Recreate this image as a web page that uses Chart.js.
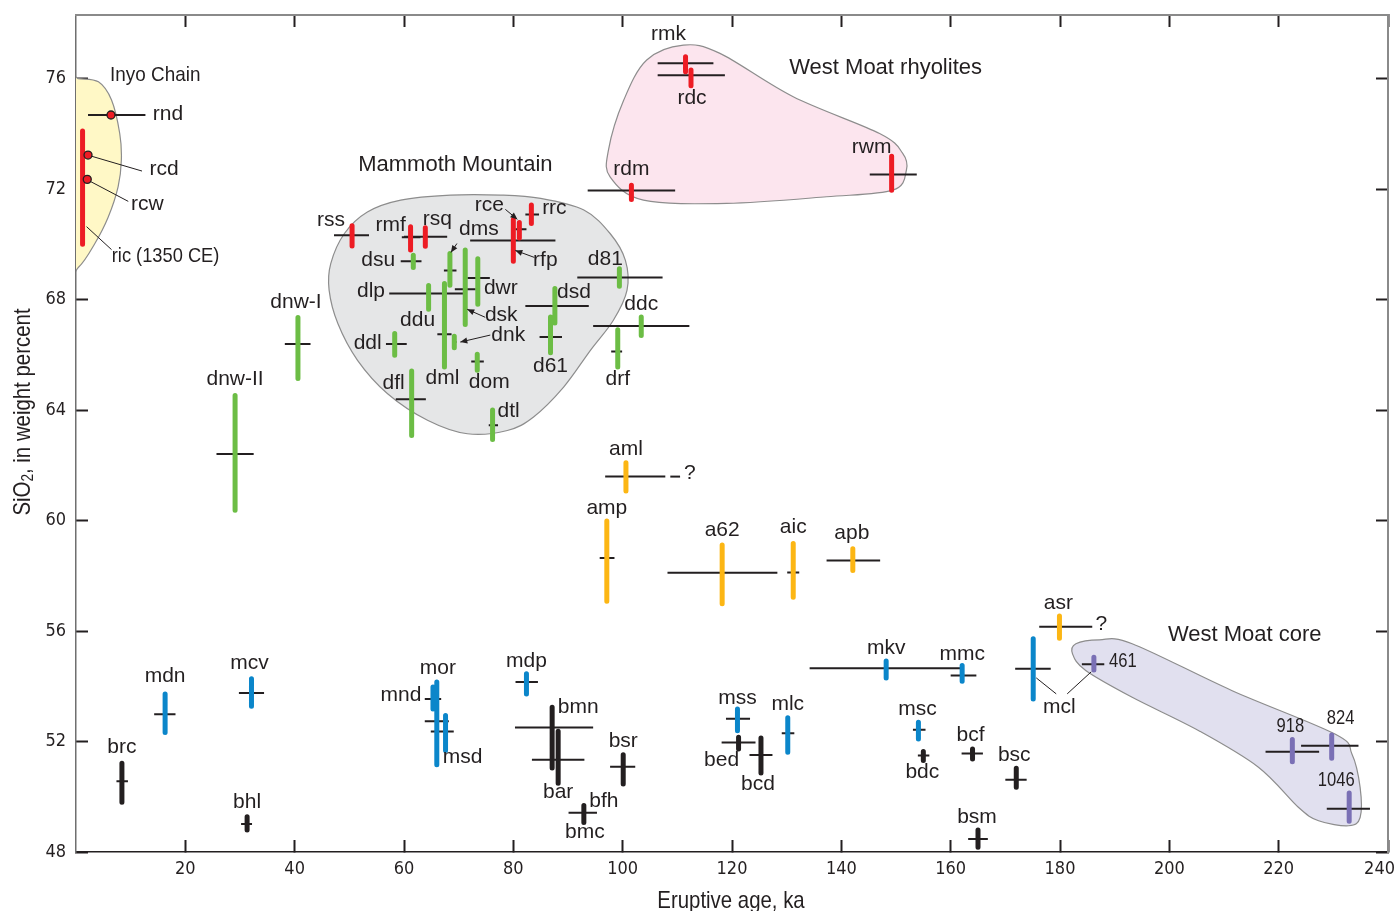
<!DOCTYPE html>
<html>
<head>
<meta charset="utf-8">
<script src="https://cdn.jsdelivr.net/npm/chart.js@4/dist/chart.umd.min.js"></script>
<style>
  html, body { margin: 0; padding: 0; background: #fff; }
  canvas { display: block; }
</style>
</head>
<body>
<canvas id="chart" width="1397" height="911"></canvas>
<script>
// Each row: [label, eruptive age (ka), age min, age max, SiO2 (wt %), SiO2 min, SiO2 max]
const inyoChain = [
  ['rnd', 6.4, 2.2, 12.7, 74.68, null, null],
  ['rcd', 2.2, null, null, 73.23, null, null],
  ['rcw', 2.06, null, null, 72.35, null, null],
  ['ric', 1.2, null, null, 72.05, 70.0, 74.1]
];

const mammothRhyolites = [
  ['rss', 50.5, 47.2, 53.6, 70.33, 69.94, 70.67],
  ['rmf', 61.2, 59.6, 63.0, 70.25, 69.79, 70.63],
  ['rsq', 63.9, 60.0, 67.9, 70.27, 69.93, 70.6],
  ['rce', 81.1, 80.4, 82.4, 70.54, 70.23, 70.79],
  ['rrc', 83.3, 82.2, 84.7, 71.08, 70.75, 71.42],
  ['rfp', 80.0, 72.1, 87.7, 70.14, 69.39, 70.9]
];

const mammothDacites = [
  ['dms', 68.4, 67.3, 69.6, 69.05, 68.52, 69.67],
  ['dsu', 61.7, 59.4, 63.2, 69.39, 69.16, 69.6],
  ['dlp', 64.2, 57.3, 71.0, 68.22, null, null],
  ['ddu', 64.5, null, null, 68.08, 67.65, 68.51],
  ['dwr', 73.5, 71.6, 75.7, 68.78, 67.83, 69.48],
  ['dsk', 71.2, 69.3, 73.1, 68.37, 67.1, 69.79],
  ['dml', 67.4, 66.1, 68.7, 66.74, 65.56, 68.58],
  ['dnk', 69.2, 68.8, 69.6, 66.46, 66.25, 66.67],
  ['dom', 73.4, 72.3, 74.6, 65.76, 65.44, 66.02],
  ['ddl', 58.3, 56.7, 60.5, 66.39, 65.98, 66.77],
  ['dfl', 61.4, 58.5, 64.0, 64.39, 63.08, 65.41],
  ['dtl', 76.2, 75.5, 77.2, 63.45, 62.93, 64.0],
  ['d81', 99.4, 91.7, 107.3, 68.8, 68.48, 69.11],
  ['dsd', 87.6, 82.2, 93.8, 67.77, 67.15, 68.4],
  ['d61', 86.8, 84.8, 88.9, 66.64, 66.07, 67.37],
  ['ddc', 103.4, 94.6, 112.2, 67.04, 66.7, 67.37],
  ['drf', 99.1, 97.9, 99.9, 66.12, 65.56, 66.91],
  ['dnw-I', 40.6, 38.2, 42.9, 66.39, 65.14, 67.35],
  ['dnw-II', 29.1, 25.7, 32.5, 62.41, 60.37, 64.53]
];

const westMoatRhyolites = [
  ['rmk', 111.5, 106.4, 116.6, 76.55, 76.25, 76.79],
  ['rdc', 112.5, 106.4, 118.7, 76.12, 75.74, 76.31],
  ['rdm', 101.6, 93.6, 109.6, 71.95, 71.62, 72.14],
  ['rwm', 149.2, 145.2, 153.8, 72.53, 71.96, 73.19]
];

const andesites = [
  ['aml', 100.6, 96.8, 107.8, 61.59, 61.07, 62.09],
  ['amp', 97.1, 95.8, 98.5, 58.64, 57.08, 59.98],
  ['a62', 118.2, 108.2, 128.3, 58.11, 56.99, 59.11],
  ['aic', 131.2, 130.1, 132.3, 58.12, 57.22, 59.17],
  ['apb', 142.1, 137.3, 147.1, 58.55, 58.19, 58.98],
  ['asr', 179.9, 176.2, 185.9, 56.15, 55.74, 56.54]
];

const maficLavas = [
  ['mdn', 16.3, 14.3, 18.2, 52.99, 52.33, 53.72],
  ['mcv', 32.1, 29.8, 34.4, 53.76, 53.28, 54.27],
  ['mnd', 65.3, 63.8, 66.8, 53.54, 53.18, 53.97],
  ['mor', 66.0, 63.8, 68.2, 52.73, 51.16, 54.15],
  ['msd', 67.6, 64.9, 69.1, 52.36, 51.67, 52.94],
  ['mdp', 82.4, 80.4, 84.5, 54.15, 53.72, 54.45],
  ['mss', 121.0, 118.9, 123.3, 52.82, 52.39, 53.18],
  ['mlc', 130.2, 129.1, 131.4, 52.3, 51.61, 52.86],
  ['mkv', 148.2, 134.2, 161.9, 54.65, 54.3, 54.91],
  ['mmc', 162.1, 160.0, 164.7, 54.39, 54.18, 54.75],
  ['mcl', 175.1, 171.8, 178.3, 54.63, 53.54, 55.72],
  ['msc', 154.1, 153.1, 155.4, 52.43, 52.09, 52.7]
];

const basalts = [
  ['brc', 8.4, 7.4, 9.5, 50.56, 49.8, 51.21],
  ['bhl', 31.3, 30.2, 32.2, 49.01, 48.8, 49.28],
  ['bmn', 87.1, 80.3, 94.6, 52.51, 51.04, 53.24],
  ['bar', 88.2, 83.4, 93.0, 51.34, 50.49, 52.37],
  ['bsr', 100.1, 97.7, 102.3, 51.09, 50.46, 51.52],
  ['bfh', 92.9, 90.1, 95.3, 49.42, 49.07, 49.68],
  ['bmc', 92.9, 91.0, 94.5, 49.42, 49.12, 49.64],
  ['bed', 121.2, 118.1, 124.3, 51.96, 51.73, 52.15],
  ['bcd', 125.3, 123.2, 127.4, 51.51, 50.86, 52.13],
  ['bdc', 155.0, 154.0, 156.1, 51.49, 51.31, 51.64],
  ['bcf', 164.0, 162.0, 165.9, 51.57, 51.37, 51.73],
  ['bsc', 172.0, 170.0, 173.9, 50.62, 50.34, 51.03],
  ['bsm', 165.0, 163.2, 166.8, 48.47, 48.17, 48.8]
];

const westMoatCore = [
  ['461', 186.2, 184.0, 188.1, 54.8, 54.59, 55.05],
  ['918', 222.5, 217.6, 227.4, 51.63, 51.27, 52.07],
  ['824', 229.7, 224.1, 234.6, 51.85, 51.39, 52.24],
  ['1046', 232.9, 228.8, 236.7, 49.57, 49.11, 50.14]
];

// Age range that is only loosely bracketed (drawn dashed, followed by "?")
const uncertainAgeSpans = [['aml', 107.8, 110.5]];
const uncertainAges = ['aml', 'asr'];

// Axis tick values
const ageTicks = [20, 40, 60, 80, 100, 120, 140, 160, 180, 200, 220, 240];
const silicaTicks = [48, 52, 56, 60, 64, 68, 72, 76];

// ---------------------------------------------------------------- styling
const INK = '#231f20';
const SANS = '"Liberation Sans", Arial, Helvetica, sans-serif';
const COND = '"DejaVu Sans Condensed", "Liberation Sans Narrow", "Liberation Sans", sans-serif';
const COLORS = {
  red: '#ed1c24', green: '#6cbd45', orange: '#fcb614',
  blue: '#0b86ca', black: INK, purple: '#7a70b5'
};

const series = [
  { rows: inyoChain, color: COLORS.red, dots: true },
  { rows: mammothRhyolites, color: COLORS.red },
  { rows: mammothDacites, color: COLORS.green },
  { rows: westMoatRhyolites, color: COLORS.red },
  { rows: andesites, color: COLORS.orange },
  { rows: maficLavas, color: COLORS.blue },
  { rows: basalts, color: COLORS.black },
  { rows: westMoatCore, color: COLORS.purple }
];

// Shaded fields around each group, outlined in data units (age ka, SiO2 wt %)
const regions = [
  { fill: '#fff8c6', title: 'Inyo Chain', at: [14.5, 76.13], font: { size: 21, squeeze: 0.9 },
    outline: [[0.4, 76.0], [4.1, 75.88], [6.5, 75.22], [8.0, 74.01], [8.3, 73.05], [7.7, 72.08],
              [5.9, 70.99], [3.45, 70.03], [0.5, 69.18], [-3, 68.9], [-3, 76.1]] },
  { fill: '#e5e6e7', title: 'Mammoth Mountain', at: [69.4, 72.87], font: { size: 22, squeeze: 1.0 },
    outline: [[53.3, 71.17], [59.4, 71.6], [68.5, 71.78], [77.7, 71.78], [85.0, 71.66], [92.9, 71.24],
              [97.7, 70.39], [100.5, 69.42], [100.8, 68.34], [98.3, 67.25], [94.1, 66.16], [89.2, 64.83],
              [83.7, 63.75], [78.9, 63.26], [71.6, 63.14], [64.3, 63.63], [57.0, 64.59], [51.5, 65.8],
              [47.9, 67.13], [46.3, 68.34], [46.6, 69.3], [49.1, 70.39]] },
  { fill: '#fce5ee', title: 'West Moat rhyolites', at: [148.1, 76.38], font: { size: 22, squeeze: 1.0 },
    outline: [[104.4, 76.67], [111.1, 77.21], [117.8, 76.91], [131.2, 75.34], [147.0, 74.01], [151.2, 73.3],
              [151.9, 72.68], [149.4, 71.96], [137.3, 71.72], [119.0, 71.48], [103.8, 71.6], [97.7, 72.44],
              [97.4, 73.41], [100.2, 75.22]] },
  { fill: '#e1e0ef', title: 'West Moat core', at: [213.8, 55.84], font: { size: 22, squeeze: 1.0 },
    outline: [[182.9, 55.54], [187.2, 55.68], [193.2, 55.54], [211.5, 53.84], [230.3, 52.27], [233.4, 51.55],
              [234.9, 50.34], [234.9, 49.25], [232.8, 48.95], [227.3, 49.13], [223.6, 49.62], [216.3, 51.07],
              [205.4, 52.39], [193.2, 53.6], [184.7, 54.57], [182.3, 55.17]] }
];

// Label placement: pixel offset of the label centre from its mark
const labelOffsets = {
  rnd: [57, -1], rcd: [76, 14], rcw: [60, 25], ric: [83, 69],
  rss: [-21, -15], rmf: [-20, -12], rsq: [12, -18], rce: [-30, -24], rrc: [23, -6], rfp: [32, 20],
  dms: [29, -41], dsu: [-35, -1], dlp: [-56, -2], ddu: [-11, 23], dwr: [23, 10], dsk: [36, 26],
  dml: [-2, 44], dnk: [54, -7], dom: [12, 21], ddl: [-27, -1], dfl: [-18, -16], dtl: [16, -14],
  d81: [-14, -18], dsd: [19, -14], d61: [0, 29], ddc: [0, -22], drf: [0, 28],
  'dnw-I': [-2, -42], 'dnw-II': [0, -75],
  rmk: [-17, -29], rdc: [1, 23], rdm: [0, -21], rwm: [-20, -27],
  aml: [0, -27], amp: [0, -50], a62: [0, -43], aic: [0, -45], apb: [-1, -27], asr: [-1, -24],
  mdn: [0, -38], mcv: [-2, -30], mnd: [-32, -4], mor: [1, -53], msd: [17, 26], mdp: [0, -21],
  mss: [0, -21], mlc: [0, -29], mkv: [0, -20], mmc: [0, -21], mcl: [26, 38], msc: [-1, -20],
  brc: [0, -34], bhl: [0, -22], bmn: [26, -20], bar: [0, 32], bsr: [0, -25], bfh: [20, -12],
  bmc: [1, 19], bed: [-17, 18], bcd: [-3, 29], bdc: [-1, 17], bcf: [-2, -18], bsc: [-2, -24],
  bsm: [-1, -22],
  '461': [29, -3], '918': [-2, -25], '824': [9, -27], '1046': [-13, -28]
};
const labelText = { ric: 'ric (1350 CE)' };
const questionOffsets = { aml: [64, -3], asr: [42, -3] };

// Leader lines and arrows: [label, start offset, end offset, arrowhead at end]
const leaders = [
  ['rcd', [3, 1], [54, 16], false],
  ['rcw', [3, 2], [41, 22], false],
  ['ric', [4, 39], [29, 62], false],
  ['rce', [-14, -20], [-2, -10], true],
  ['rfp', [21, 17], [2, 10], true],
  ['dms', [7, -27], [1, -18], true],
  ['dsk', [20, 28], [2, 20], true],
  ['dnk', [36, -7], [6, 0], true],
  ['mcl', [3, 9], [23, 25], false],
  ['mcl', [34, 25], [58, 3], false]
];

const labelFont = { size: 21, squeeze: 1.0, family: SANS };
const labelFonts = {
  ric: { size: 21, squeeze: 0.87, family: SANS },
  '461': { size: 20, squeeze: 0.83, family: SANS },
  '918': { size: 20, squeeze: 0.83, family: SANS },
  '824': { size: 20, squeeze: 0.83, family: SANS },
  '1046': { size: 20, squeeze: 0.83, family: SANS }
};
const tickFont = { family: COND, size: 18 };

// ---------------------------------------------------------------- datasets
const ageBars = [];
const dashedAgeBars = [];
const dots = [];
const silicaBars = {};

series.forEach(s => {
  s.rows.forEach(([name, age, aMin, aMax, si, sMin, sMax]) => {
    if (aMin !== null) ageBars.push({ x: aMin, y: si }, { x: aMax, y: si }, { x: aMax, y: null });
    if (sMin !== null) {
      (silicaBars[s.color] = silicaBars[s.color] || []).push(
        { x: age, y: sMin }, { x: age, y: sMax }, { x: age, y: null });
    } else if (s.dots) {
      dots.push({ x: age, y: si });
    }
  });
});
uncertainAgeSpans.forEach(([name, from, to]) => {
  const row = andesites.find(r => r[0] === name);
  dashedAgeBars.push({ x: from, y: row[4] }, { x: to, y: row[4] }, { x: to, y: null });
});

const datasets = [
  { label: 'Dated vents', data: dots, showLine: false, pointRadius: 4,
    pointBackgroundColor: COLORS.red, pointBorderColor: INK, pointBorderWidth: 1.3, order: 0 },
  ...Object.keys(silicaBars).map(color => ({
    label: 'SiO2 range', data: silicaBars[color], showLine: true, spanGaps: false,
    borderColor: color, borderWidth: 5, borderCapStyle: 'round', pointRadius: 0, order: 1
  })),
  { label: 'Uncertain age', data: dashedAgeBars, showLine: true, spanGaps: false,
    borderColor: INK, borderWidth: 2, borderDash: [10, 5], borderDashOffset: 10, pointRadius: 0, order: 2 },
  { label: 'Age range', data: ageBars, showLine: true, spanGaps: false,
    borderColor: INK, borderWidth: 2, pointRadius: 0, order: 3 }
];

// ---------------------------------------------------------------- drawing helpers
function drawText(ctx, text, x, y, f, align) {
  ctx.save();
  ctx.translate(x, y);
  ctx.scale(f.squeeze || 1, 1);
  ctx.font = `${f.size}px ${f.family || SANS}`;
  ctx.fillStyle = INK;
  ctx.textAlign = align || 'center';
  ctx.textBaseline = 'middle';
  ctx.fillText(text, 0, 0);
  ctx.restore();
}

function smoothClosed(ctx, p) {
  const n = p.length;
  ctx.moveTo(p[0][0], p[0][1]);
  for (let i = 0; i < n; i++) {
    const p0 = p[(i - 1 + n) % n], p1 = p[i], p2 = p[(i + 1) % n], p3 = p[(i + 2) % n];
    ctx.bezierCurveTo(
      p1[0] + (p2[0] - p0[0]) / 6, p1[1] + (p2[1] - p0[1]) / 6,
      p2[0] - (p3[0] - p1[0]) / 6, p2[1] - (p3[1] - p1[1]) / 6,
      p2[0], p2[1]);
  }
  ctx.closePath();
}

const allRows = series.flatMap(s => s.rows);
const rowByName = Object.fromEntries(allRows.map(r => [r[0], r]));

function markPixel(chart, name) {
  const r = rowByName[name];
  return [chart.scales.x.getPixelForValue(r[1]), chart.scales.y.getPixelForValue(r[4])];
}

const regionPlugin = {
  id: 'regions',
  beforeDatasetsDraw(chart) {
    const { ctx, chartArea: a, scales: { x, y } } = chart;
    ctx.save();
    ctx.beginPath();
    ctx.rect(a.left, a.top, a.right - a.left, a.bottom - a.top);
    ctx.clip();
    regions.forEach(r => {
      const pts = r.outline.map(([u, v]) => [x.getPixelForValue(u), y.getPixelForValue(v)]);
      ctx.beginPath();
      smoothClosed(ctx, pts);
      ctx.fillStyle = r.fill;
      ctx.fill();
      ctx.lineWidth = 1.2;
      ctx.strokeStyle = '#8d8d8d';
      ctx.stroke();
    });
    ctx.restore();
  }
};

const annotationPlugin = {
  id: 'annotations',
  afterDatasetsDraw(chart) {
    const { ctx, scales: { x, y } } = chart;

    // leader lines and arrows
    ctx.save();
    ctx.strokeStyle = INK;
    ctx.fillStyle = INK;
    ctx.lineWidth = 1;
    leaders.forEach(([name, from, to, arrow]) => {
      const [cx, cy] = markPixel(chart, name);
      const x1 = cx + from[0], y1 = cy + from[1], x2 = cx + to[0], y2 = cy + to[1];
      ctx.beginPath();
      ctx.moveTo(x1, y1);
      ctx.lineTo(x2, y2);
      ctx.stroke();
      if (arrow) {
        const ang = Math.atan2(y2 - y1, x2 - x1);
        const len = 7, half = 3;
        ctx.beginPath();
        ctx.moveTo(x2, y2);
        ctx.lineTo(x2 - len * Math.cos(ang) + half * Math.sin(ang), y2 - len * Math.sin(ang) - half * Math.cos(ang));
        ctx.lineTo(x2 - len * Math.cos(ang) - half * Math.sin(ang), y2 - len * Math.sin(ang) + half * Math.cos(ang));
        ctx.closePath();
        ctx.fill();
      }
    });
    ctx.restore();

    // unit labels
    allRows.forEach(([name]) => {
      const off = labelOffsets[name];
      if (!off) return;
      const [cx, cy] = markPixel(chart, name);
      drawText(ctx, labelText[name] || name, cx + off[0], cy + off[1], labelFonts[name] || labelFont);
    });

    // question marks after loosely bracketed ages
    uncertainAges.forEach(name => {
      const [cx, cy] = markPixel(chart, name);
      const off = questionOffsets[name];
      drawText(ctx, '?', cx + off[0], cy + off[1], labelFont);
    });

    // field titles
    regions.forEach(r => {
      drawText(ctx, r.title, x.getPixelForValue(r.at[0]), y.getPixelForValue(r.at[1]),
        { size: r.font.size, squeeze: r.font.squeeze, family: SANS });
    });
  },
  afterDraw(chart) {
    const { ctx, chartArea: a, scales: { x } } = chart;

    // age tick labels, the last one kept inside the canvas
    ctx.save();
    ctx.font = `${tickFont.size}px ${tickFont.family}`;
    ageTicks.forEach(v => {
      const text = String(v);
      const half = ctx.measureText(text).width / 2;
      const px = Math.min(x.getPixelForValue(v), chart.width - half - 2);
      drawText(ctx, text, px, a.bottom + 17, { size: tickFont.size, family: tickFont.family });
    });
    ctx.restore();

    // x-axis title
    drawText(ctx, 'Eruptive age, ka', (a.left + a.right) / 2 - 1, 901, { size: 24, squeeze: 0.85, family: SANS });

    // y-axis title with subscript
    ctx.save();
    ctx.translate(23, 412);
    ctx.rotate(-Math.PI / 2);
    ctx.scale(0.85, 1);
    ctx.fillStyle = INK;
    ctx.textBaseline = 'middle';
    ctx.textAlign = 'left';
    const big = `24px ${SANS}`, small = `16px ${SANS}`;
    ctx.font = big;
    const w1 = ctx.measureText('SiO').width;
    const w3 = ctx.measureText(', in weight percent').width;
    ctx.font = small;
    const w2 = ctx.measureText('2').width;
    let pos = -(w1 + w2 + w3) / 2;
    ctx.font = big;
    ctx.fillText('SiO', pos, 0);
    pos += w1;
    ctx.font = small;
    ctx.fillText('2', pos, 6);
    pos += w2;
    ctx.font = big;
    ctx.fillText(', in weight percent', pos, 0);
    ctx.restore();
  }
};

// ---------------------------------------------------------------- chart
const innerTicks = { drawOnChartArea: false, drawTicks: true, tickLength: -12, tickColor: INK, tickWidth: 2 };

// Fixed axis sizes so the plotting area keeps its frame
function fixHorizontal(height) {
  return s => { s.height = height; s.paddingLeft = 0; s.paddingRight = 0; };
}
function fixVertical(width) {
  return s => { s.width = width; s.paddingTop = 0; s.paddingBottom = 0; };
}

new Chart(document.getElementById('chart'), {
  type: 'scatter',
  data: { datasets },
  options: {
    responsive: false,
    animation: false,
    devicePixelRatio: 1,
    events: [],
    layout: { padding: { top: 15, right: 9, left: 0, bottom: 0 } },
    plugins: { legend: { display: false }, tooltip: { enabled: false } },
    scales: {
      x: {
        type: 'linear', position: 'bottom', min: 0, max: 240,
        afterBuildTicks: s => { s.ticks = ageTicks.map(v => ({ value: v })); },
        afterFit: fixHorizontal(59),
        ticks: { display: false },
        grid: innerTicks,
        border: { color: INK, width: 1.5 }
      },
      y: {
        type: 'linear', position: 'left', min: 48, max: 78.3,
        afterBuildTicks: s => { s.ticks = silicaTicks.map(v => ({ value: v })); },
        afterFit: fixVertical(76),
        ticks: { padding: 22, color: INK, font: tickFont, autoSkip: false },
        grid: innerTicks,
        border: { color: '#6f6f6f', width: 1.5 }
      },
      xTop: {
        type: 'linear', position: 'top', min: 0, max: 240,
        afterBuildTicks: s => { s.ticks = ageTicks.map(v => ({ value: v })); },
        afterFit: fixHorizontal(0),
        ticks: { display: false },
        grid: innerTicks,
        border: { color: '#8a8a8a', width: 2 }
      },
      yRight: {
        type: 'linear', position: 'right', min: 48, max: 78.3,
        afterBuildTicks: s => { s.ticks = silicaTicks.map(v => ({ value: v })); },
        afterFit: fixVertical(0),
        ticks: { display: false },
        grid: innerTicks,
        border: { color: '#8a8a8a', width: 2 }
      }
    }
  },
  plugins: [regionPlugin, annotationPlugin]
});
</script>
</body>
</html>
